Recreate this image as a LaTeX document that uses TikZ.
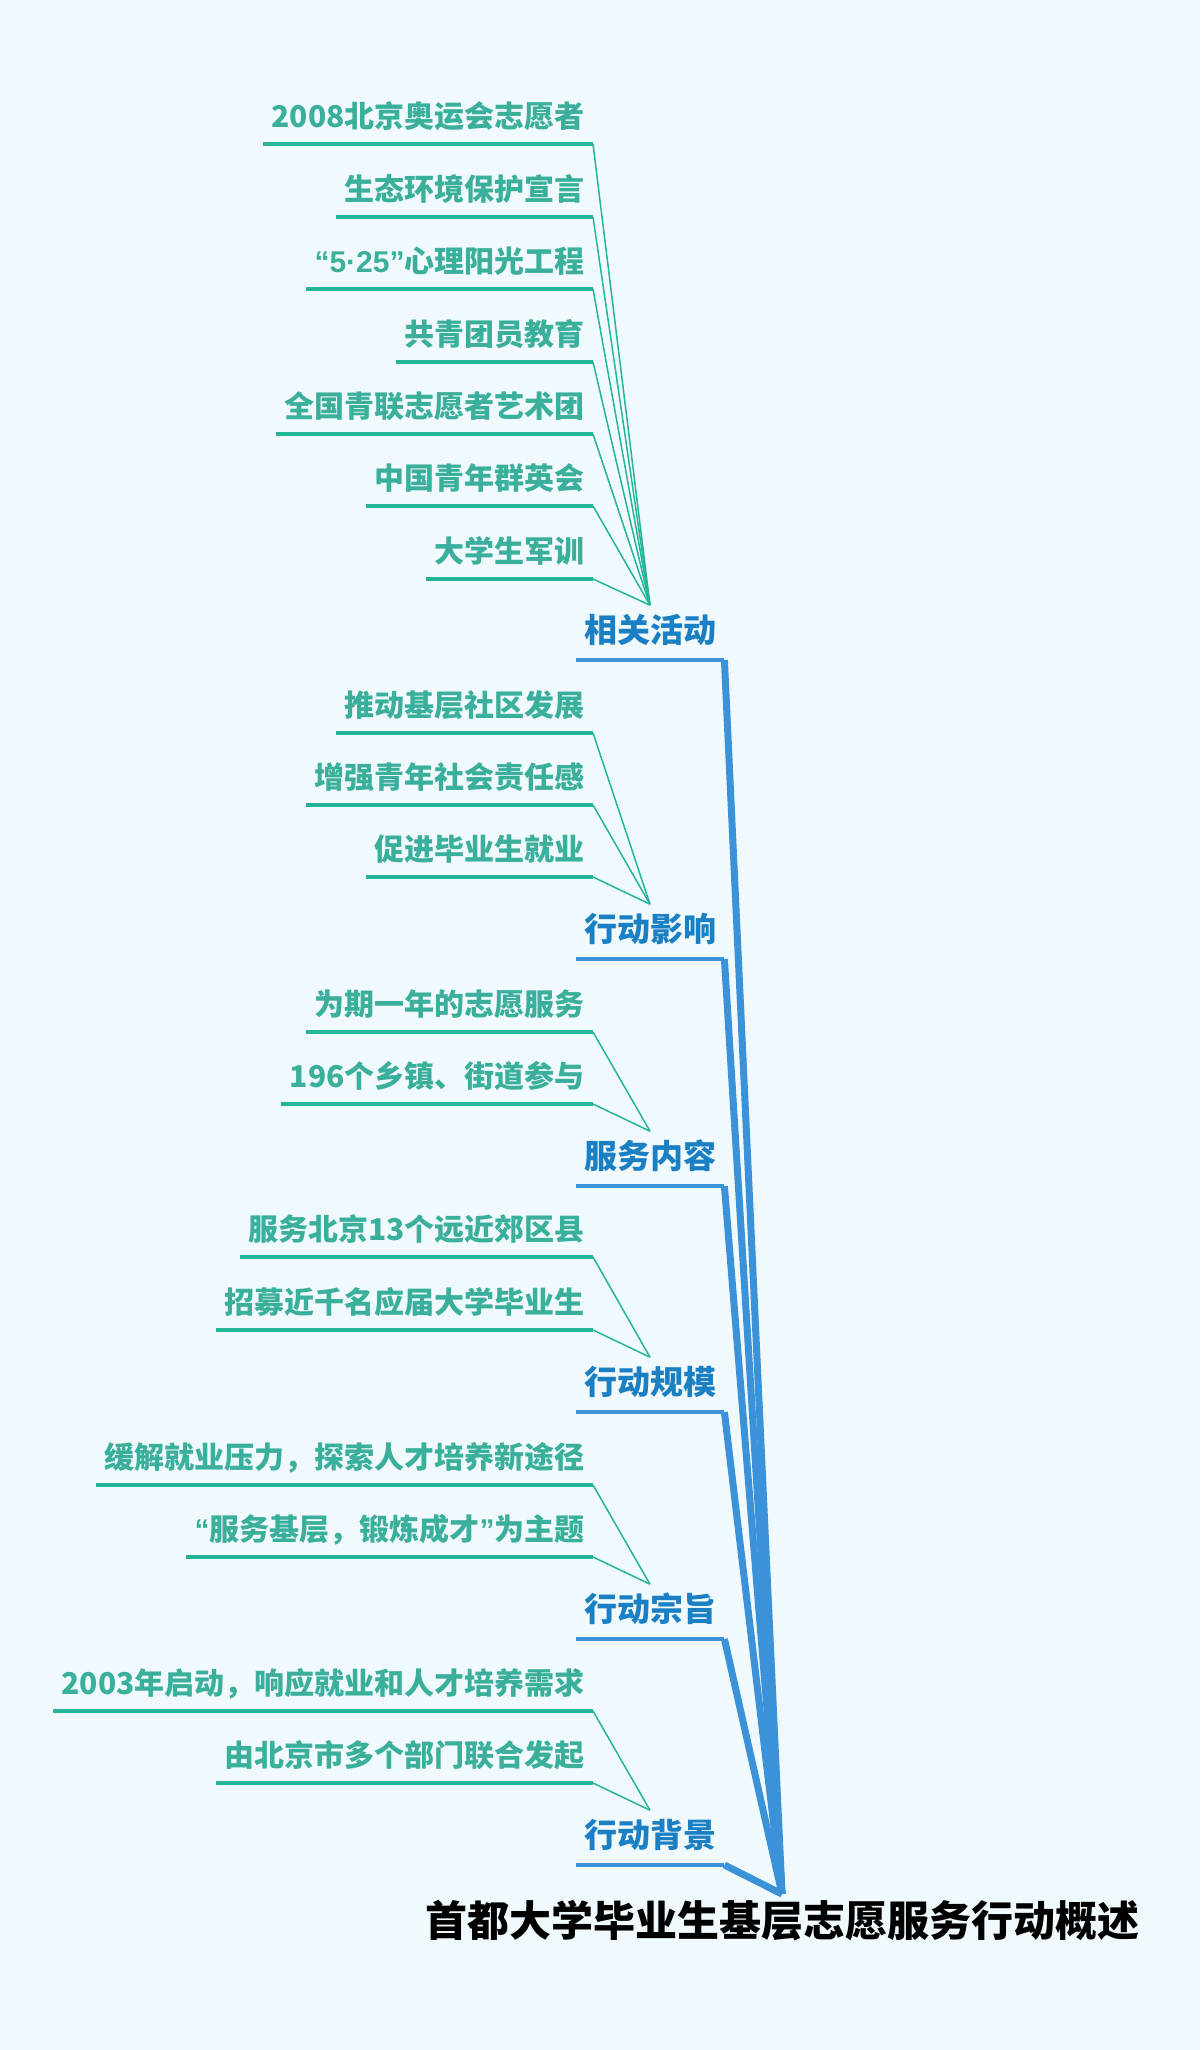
\documentclass[tikz,border=0pt]{standalone}
\usepackage{fontspec}
\newfontfamily\cjk{Noto Sans CJK SC}
\newfontfamily\lat{Liberation Sans}
\usetikzlibrary{positioning}

\definecolor{fond}{HTML}{F0FAFE}
\definecolor{vert}{HTML}{24B598}
\definecolor{vertt}{HTML}{3AAF9B}
\definecolor{bleu}{HTML}{3C92D9}
\definecolor{bleut}{HTML}{1B80C3}

\begin{document}
\begin{tikzpicture}[x=0.5pt, y=-0.5pt,
    feuille/.style={anchor=south east, text=vertt, inner xsep=4pt, inner ysep=4pt,
      text height=13pt, text depth=4pt, font=\cjk\bfseries\fontsize{15}{18}\selectfont},
    branche/.style={anchor=south, text=bleut, inner xsep=4pt, inner ysep=4pt,
      text height=14.5pt, text depth=4.5pt, font=\cjk\bfseries\fontsize{16.5}{20}\selectfont},
    racine/.style={anchor=north, text=black, inner sep=2pt,
      text height=19pt, text depth=5pt, font=\cjk\bfseries\fontsize{21}{25}\selectfont},
    souligne/.style={draw=vert, line width=2pt},
    lien/.style={draw=vert, line width=0.75pt},
    soulb/.style={draw=bleu, line width=1.75pt},
    tronc/.style={draw=bleu, line width=3.5pt, line join=round}]
    % Fond
    \fill[fond] (0,0) rectangle (1200,2050);
    \useasboundingbox (0,0) rectangle (1200,2050);
    % Racine
    \node[racine] at (782,1894) (r) {首都大学毕业生基层志愿服务行动概述};
    % Branches
    \node[branche] at (650,660)  (b1) {相关活动};
    \node[branche] at (650,959)  (b2) {行动影响};
    \node[branche] at (650,1186) (b3) {服务内容};
    \node[branche] at (650,1412) (b4) {行动规模};
    \node[branche] at (650,1639) (b5) {行动宗旨};
    \node[branche] at (650,1865) (b6) {行动背景};
    % Feuilles
    \node[feuille] at (593,144) (f11) {2008北京奥运会志愿者};
    \node[feuille] at (593,217) (f12) {生态环境保护宣言};
    \node[feuille] at (593,289) (f13) {{\lat\bfseries“5·25”}心理阳光工程};
    \node[feuille] at (593,362) (f14) {共青团员教育};
    \node[feuille] at (593,434) (f15) {全国青联志愿者艺术团};
    \node[feuille] at (593,506) (f16) {中国青年群英会};
    \node[feuille] at (593,579) (f17) {大学生军训};
    \node[feuille] at (593,733) (f21) {推动基层社区发展};
    \node[feuille] at (593,805) (f22) {增强青年社会责任感};
    \node[feuille] at (593,877) (f23) {促进毕业生就业};
    \node[feuille] at (593,1032) (f31) {为期一年的志愿服务};
    \node[feuille] at (593,1104) (f32) {196个乡镇、街道参与};
    \node[feuille] at (593,1257) (f41) {服务北京13个远近郊区县};
    \node[feuille] at (593,1330) (f42) {招募近千名应届大学毕业生};
    \node[feuille] at (593,1485) (f51) {缓解就业压力，探索人才培养新途径};
    \node[feuille] at (593,1557) (f52) {{\lat\bfseries“}服务基层，锻炼成才{\lat\bfseries”}为主题};
    \node[feuille] at (593,1711) (f61) {2003年启动，响应就业和人才培养需求};
    \node[feuille] at (593,1783) (f62) {由北京市多个部门联合发起};
    % Liens feuilles
    \foreach \f in {f11,f12,f13,f14,f15,f16,f17}
      \draw[lien] (\f.south east) -- (b1.north);
    \foreach \f in {f21,f22,f23}
      \draw[lien] (\f.south east) -- (b2.north);
    \foreach \f in {f31,f32}
      \draw[lien] (\f.south east) -- (b3.north);
    \foreach \f in {f41,f42}
      \draw[lien] (\f.south east) -- (b4.north);
    \foreach \f in {f51,f52}
      \draw[lien] (\f.south east) -- (b5.north);
    \foreach \f in {f61,f62}
      \draw[lien] (\f.south east) -- (b6.north);
    \foreach \f in {f11,f12,f13,f14,f15,f16,f17,f21,f22,f23,f31,f32,f41,f42,f51,f52,f61,f62}
      \draw[souligne] (\f.south west) -- (\f.south east);
    % Troncs
    \foreach \b in {b1,b2,b3,b4,b5,b6} {
      \draw[soulb] (\b.south west) -- (\b.south east);
      \draw[tronc] (\b.south east) -- (r.north);
    }
  \end{tikzpicture}
\end{document}
